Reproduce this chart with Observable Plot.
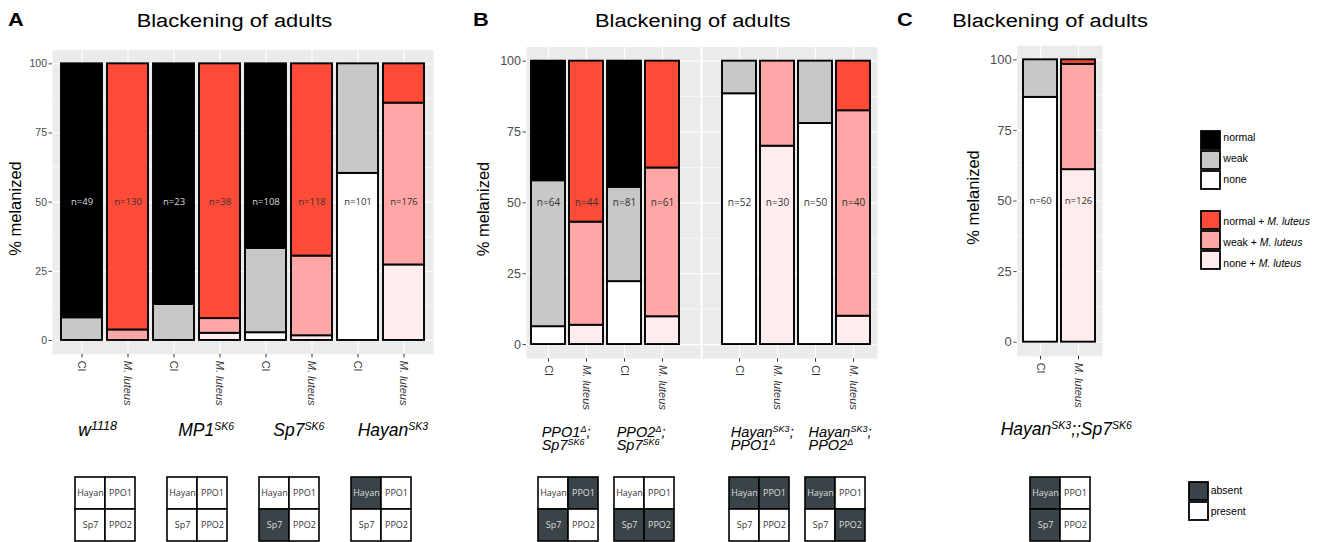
<!DOCTYPE html>
<html><head><meta charset="utf-8">
<script src="https://cdn.jsdelivr.net/npm/d3@7"></script>
<script src="https://cdn.jsdelivr.net/npm/@observablehq/plot@0.6"></script>
<style>
body{margin:0;background:#fff;}
#fig{position:relative;width:1323px;height:542px;overflow:hidden;background:#fff;font-family:"Liberation Sans",Arial,sans-serif;}
.pw{position:absolute;}
#overlay{position:absolute;left:0;top:0;pointer-events:none;}
</style></head>
<body><div id="fig"></div>
<script>
// ---------------- data ----------------
const treatments = ["Cl", "M. luteus"];
const levels = ["none", "weak", "normal"];            // stacked bottom -> top
const fillCl = ["#ffffff", "#c8c8c8", "#000000"];      // none, weak, normal
const fillMl = ["#ffecec", "#ffa6a6", "#ff4b37"];      // none, weak, normal + M. luteus
const absentColor = "#3a4448", presentColor = "#ffffff";

// Panel A
const genotypesA = ["w^{1118}", "MP1^{SK6}", "Sp7^{SK6}", "Hayan^{SK3}"];
const nA      = [49, 130, 23, 38, 108, 118, 101, 176];
const noneA   = [0, 0, 0, 2.6, 2.8, 1.7, 60.4, 27.3];
const weakA   = [8.2, 3.8, 13.0, 5.3, 30.5, 28.8, 39.6, 58.5];
const normalA = [91.8, 96.2, 87.0, 92.1, 66.7, 69.5, 0, 14.2];
// Panel B, left facet
const genotypesB1 = ["PPO1^{Δ};\nSp7^{SK6}", "PPO2^{Δ};\nSp7^{SK6}"];
const nB1      = [64, 44, 81, 61];
const noneB1   = [6.3, 6.8, 22.2, 9.8];
const weakB1   = [51.5, 36.4, 33.3, 52.5];
const normalB1 = [42.2, 56.8, 44.5, 37.7];
// Panel B, right facet
const genotypesB2 = ["Hayan^{SK3};\nPPO1^{Δ}", "Hayan^{SK3};\nPPO2^{Δ}"];
const nB2      = [52, 30, 50, 40];
const noneB2   = [88.5, 70.0, 78.0, 10.0];
const weakB2   = [11.5, 30.0, 22.0, 72.5];
const normalB2 = [0, 0, 0, 17.5];
// Panel C
const genotypesC = ["Hayan^{SK3};;Sp7^{SK6}"];
const nC      = [60, 126];
const noneC   = [86.7, 61.1];
const weakC   = [13.3, 37.3];
const normalC = [0, 1.6];

// gene grids: genes absent in each genotype
const gridGenes = ["Hayan", "PPO1", "Sp7", "PPO2"];
const absentA  = [[], [], ["Sp7"], ["Hayan"]];
const absentB1 = [["PPO1", "Sp7"], ["Sp7", "PPO2"]];
const absentB2 = [["Hayan", "PPO1"], ["Hayan", "PPO2"]];
const absentC  = [["Hayan", "Sp7"]];

const yMajor = [0, 25, 50, 75, 100];
const yMinor = [12.5, 37.5, 62.5, 87.5];
const legendKeys = ["normal", "weak", "none", "gap", "normal + M. luteus", "weak + M. luteus", "none + M. luteus"];
const legendFills = ["#000000", "#c8c8c8", "#ffffff", null, "#ff4b37", "#ffa6a6", "#ffecec"];
const presenceKeys = ["absent", "present"];

// ---------------- helpers ----------------
const fig = document.getElementById("fig");
const FONT = "Liberation Sans, Arial, sans-serif";

function build(genos, n, none, weak, normal) {
  const bars = [], rows = [];
  genos.forEach((g, gi) => treatments.forEach((t, ti) => {
    const i = gi * 2 + ti, key = g + "|" + t;
    const vals = [none[i], weak[i], normal[i]];
    const fills = t === "Cl" ? fillCl : fillMl;
    vals.forEach((v, li) => rows.push({key, level: levels[li], value: v, fill: fills[li]}));
    let cum = 0, at50 = 2;
    for (let li = 0; li < 3; li++) { if (cum + vals[li] >= 50) { at50 = li; break; } cum += vals[li]; }
    bars.push({key, geno: g, treat: t, n: n[i], label: (t === "Cl" && at50 === 2) ? "#d9d9d9" : "#333333"});
  }));
  return {bars, rows};
}

function place(el, left, top, width) {
  const d = document.createElement("div");
  d.className = "pw";
  d.style.left = left + "px"; d.style.top = top + "px"; d.style.width = width + "px";
  d.append(el); fig.append(d); return el;
}

function panel(p, c) {
  const keys = p.bars.map(d => d.key);
  const clKeys = keys.filter(k => k.endsWith("|Cl"));
  const mKeys = keys.filter(k => !k.endsWith("|Cl"));
  const x = {type: "band", domain: keys, paddingInner: 0.1, paddingOuter: c.po};
  if (c.range) x.range = c.range;
  const y = {domain: [-5, 105]};
  if (!c.yAxis) y.axis = null;
  const marks = [
    Plot.frame({fill: "#ebebeb", stroke: "none"}),
    Plot.gridY(yMinor, {stroke: "#ffffff", strokeOpacity: 1, strokeWidth: 0.6}),
    Plot.gridY(yMajor, {stroke: "#ffffff", strokeOpacity: 1, strokeWidth: 1.2}),
    Plot.gridX(keys, {stroke: "#ffffff", strokeOpacity: 1, strokeWidth: 1.2}),
    Plot.barY(p.rows, {x: "key", y: "value", fill: "fill", stroke: "#000000", strokeWidth: 1.9}),
    Plot.text(p.bars, {x: "key", y: () => 50, text: d => "n=" + d.n, fill: "label", fontFamily: "Open Sans", fontSize: c.nSize}),
    Plot.axisX(clKeys, {tickFormat: () => "Cl", tickRotate: 90, tickSize: 3.5, tickPadding: 3, fontSize: 11, color: "#333333", label: null, fontFamily: FONT}),
    Plot.axisX(mKeys, {tickFormat: () => "M. luteus", tickRotate: 90, tickSize: 3.5, tickPadding: 3, fontSize: 11, fontStyle: "italic", color: "#333333", label: null, fontFamily: FONT})
  ];
  if (c.yAxis) marks.push(Plot.axisY(yMajor, {tickSize: 3.5, tickPadding: 2, fontSize: c.ySize, color: "#4d4d4d", label: null, fontFamily: FONT}));
  const plot = Plot.plot({
    width: c.width, height: 420,
    marginLeft: c.mL, marginRight: c.mR, marginTop: c.mT, marginBottom: 420 - c.bottom,
    style: {background: "transparent", overflow: "visible", fontFamily: FONT},
    x, y, color: {type: "identity"},
    marks
  });
  place(plot, c.left, 0, c.width);
  return {plot, keys};
}

function gridPlot(absent, left, top) {
  const pos = {Hayan: ["L", "T"], PPO1: ["R", "T"], Sp7: ["L", "B"], PPO2: ["R", "B"]};
  const cells = gridGenes.map(g => ({g, col: pos[g][0], row: pos[g][1], absent: absent.includes(g)}));
  const plot = Plot.plot({
    width: 63, height: 66, margin: 1,
    style: {background: "transparent", overflow: "visible"},
    x: {domain: ["L", "R"], padding: 0, axis: null},
    y: {domain: ["T", "B"], padding: 0, axis: null},
    color: {type: "identity"},
    marks: [
      Plot.cell(cells, {x: "col", y: "row", fill: d => d.absent ? absentColor : presentColor, stroke: "#000000", strokeWidth: 1.6}),
      Plot.text(cells, {x: "col", y: "row", text: "g", fill: d => d.absent ? "#dddddd" : "#333333", fontFamily: "Open Sans", fontSize: 9})
    ]
  });
  place(plot, left, top, 63);
}

function gridsFor(pan, svgLeft, genos, absents) {
  const sc = pan.plot.scale("x");
  genos.forEach((g, gi) => {
    const k1 = g + "|Cl", k2 = g + "|M. luteus";
    const c1 = sc.apply(k1) + sc.bandwidth / 2, c2 = sc.apply(k2) + sc.bandwidth / 2;
    const cx = svgLeft + (c1 + c2) / 2;
    gridPlot(absents[gi], cx - 31.5, 475.7);
  });
}

// ---------------- panels ----------------
const pA = panel(build(genotypesA, nA, noneA, weakA, normalA),
  {left: 0, width: 440, mL: 52, mR: 7, mT: 49.5, bottom: 353.8, po: 0.15, yAxis: true, ySize: 10.5, nSize: 9.5});
const pB1 = panel(build(genotypesB1, nB1, noneB1, weakB1, normalB1),
  {left: 470, width: 230, mL: 56, mR: 0, mT: 46.5, bottom: 358.2, po: 0.05, range: [58.65, 211.05], yAxis: true, ySize: 12.5, nSize: 10});
const pB2 = panel(build(genotypesB2, nB2, noneB2, weakB2, normalB2),
  {left: 702, width: 175, mL: 0, mR: 0, mT: 46.5, bottom: 358.2, po: 0.05, range: [17.15, 170.35], yAxis: false, nSize: 10});
const pC = panel(build(genotypesC, nC, noneC, weakC, normalC),
  {left: 960, width: 142, mL: 56.7, mR: 0, mT: 45.2, bottom: 355.8, po: 0.15, yAxis: true, ySize: 13, nSize: 9.5});

gridsFor(pA, 0, genotypesA, absentA);
gridsFor(pB1, 470, genotypesB1, absentB1);
gridsFor(pB2, 702, genotypesB2, absentB2);
gridsFor(pC, 960, genotypesC, absentC);

// legends (swatches)
place(Plot.plot({
  width: 21.3, height: 148.3, marginTop: 1, marginBottom: 1, marginLeft: 1, marginRight: 1,
  style: {background: "transparent", overflow: "visible"},
  x: {domain: ["s"], padding: 0, axis: null},
  y: {domain: legendKeys, paddingInner: 0.1, paddingOuter: 0.05, axis: null},
  color: {type: "identity"},
  marks: [Plot.cell(legendKeys.map((k, i) => ({k, f: legendFills[i]})).filter(d => d.f), {x: () => "s", y: "k", fill: "f", stroke: "#000000", strokeWidth: 1.8})]
}), 1199.7, 125.65, 21.3);
place(Plot.plot({
  width: 21, height: 43.4, marginTop: 1, marginBottom: 1, marginLeft: 1, marginRight: 1,
  style: {background: "transparent", overflow: "visible"},
  x: {domain: ["s"], padding: 0, axis: null},
  y: {domain: presenceKeys, paddingInner: 0.1, paddingOuter: 0.05, axis: null},
  color: {type: "identity"},
  marks: [Plot.cell(presenceKeys, {x: () => "s", y: d => d, fill: d => d === "absent" ? absentColor : presentColor, stroke: "#000000", strokeWidth: 1.8})]
}), 1188.3, 479, 21);

// ---------------- text overlay ----------------
function esc(s) { return s.replace(/&/g, "&amp;").replace(/</g, "&lt;"); }
function rich(str, supSize, rise) {
  let out = "", last = 0, m, raised = false;
  const re = /\^\{([^}]*)\}/g;
  while ((m = re.exec(str))) {
    const before = str.slice(last, m.index);
    if (before) { out += `<tspan dy="${raised ? rise : 0}">${esc(before)}</tspan>`; raised = false; }
    const ss = /^\d+$/.test(m[1]) ? supSize * 1.2 : supSize;
    out += `<tspan dy="${raised ? 0 : -rise}" font-size="${ss}">${esc(m[1])}</tspan>`; raised = true;
    last = re.lastIndex;
  }
  const rest = str.slice(last);
  if (rest) out += `<tspan dy="${raised ? rise : 0}">${esc(rest)}</tspan>`;
  return out;
}
function genoText(label, x, y, size, supSize, rise, lineH) {
  return label.split("\n").map((line, li) =>
    `<text x="${x}" y="${y + li * lineH}" font-size="${size}" font-style="italic">${rich(line, supSize, rise)}</text>`).join("");
}
let s = "";
const titles = [["A", 8, 136.7], ["B", 473, 595], ["C", 897, 952.3]];
titles.forEach(([L, lx, tx]) => {
  s += `<text transform="translate(${lx},26) scale(1.15,1)" font-size="19" font-weight="bold">${L}</text>`;
  s += `<text transform="translate(${tx},26.5) scale(1.15,1)" font-size="19">Blackening of adults</text>`;
});
[[15, 208.5], [483.3, 209], [972.7, 197.5]].forEach(([x, y]) => {
  s += `<text transform="translate(${x},${y}) rotate(-90)" text-anchor="middle" dominant-baseline="central" font-size="16.5">% melanized</text>`;
});
const labelXA = [78.3, 178.3, 273.3, 357.7];
genotypesA.forEach((g, i) => s += genoText(g, labelXA[i], 436, 17.5, 10.5, 6.5, 0));
const labelXB = [541.7, 616.7, 730.7, 808.5];
genotypesB1.concat(genotypesB2).forEach((g, i) => s += genoText(g, labelXB[i], 436.7, 14.5, 9, 5, 13.4));
s += genoText(genotypesC[0], 1000.7, 435, 17.5, 10.5, 6.5, 0);
// legend labels
legendKeys.forEach((k, i) => {
  if (k === "gap") return;
  const y = 126.65 + (i + 0.5) * 20.9;
  const parts = k.split("M. luteus");
  s += `<text x="1223.3" y="${y}" dominant-baseline="central" font-size="10.5">${esc(parts[0])}${parts.length > 1 ? '<tspan font-style="italic">M. luteus</tspan>' : ""}</text>`;
});
presenceKeys.forEach((k, i) => {
  s += `<text x="1210.7" y="${480 + (i + 0.5) * 20.7}" dominant-baseline="central" font-size="10.5">${k}</text>`;
});
const ov = document.createElementNS("http://www.w3.org/2000/svg", "svg");
ov.setAttribute("id", "overlay"); ov.setAttribute("width", 1323); ov.setAttribute("height", 542);
ov.setAttribute("font-family", FONT);
ov.innerHTML = s;
fig.append(ov);
</script></body></html>
